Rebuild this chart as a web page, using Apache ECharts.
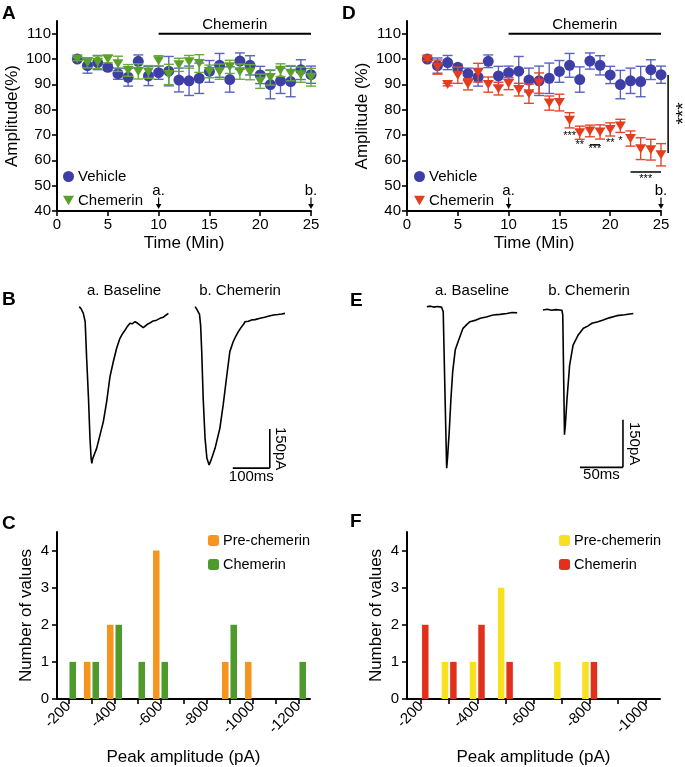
<!DOCTYPE html>
<html><head><meta charset="utf-8">
<script src="https://cdn.jsdelivr.net/npm/echarts@6/dist/echarts.min.js"></script>
<style>html,body{margin:0;padding:0;background:#fff}#c{width:685px;height:767px}</style>
</head><body><div id="c"></div>
<script>
// ---------- data ----------
const minutes = [2,3,4,5,6,7,8,9,10,11,12,13,14,15,16,17,18,19,20,21,22,23,24,25];
const vehicleMean = [100,97.4,98.6,96.7,94.2,92.8,99.1,93.3,94.6,95.2,91.7,91.4,92.4,95.1,97.5,91.9,99.2,97.5,93.7,89.9,91.4,91.1,95.8,93.8];
const vehicleSem  = [0.5,3.0,2.8,1.2,2.2,3.5,2.5,3.8,2.6,5.8,4.7,5.8,6.0,4.3,4.7,5.0,3.2,3.8,3.4,5.6,5.0,6.0,3.9,3.4];
const chemerinAMean = [100,98.5,98.7,100,98.1,95.5,95.1,94.9,99.3,93.9,97.7,98.9,98.2,95.1,95.0,96.9,95.0,94.8,91.2,92.7,95.6,94.4,93.8,92.8];
const chemerinASem  = [0.6,2.0,2.5,1.5,3.0,2.3,3.0,2.5,2.0,4.0,2.6,2.5,3.5,2.5,3.0,2.6,3.0,3.0,2.8,3.0,2.5,3.0,3.0,3.5];
const chemerinDMean = [100,96.8,89.9,93.6,90.0,94.6,89.9,88.3,90.3,87.9,86.3,90.5,82.6,82.8,75.8,70.9,71.6,71.2,72.2,73.6,68.6,64.6,64.2,62.2];
const chemerinDSem  = [0.6,2.8,0.5,3.2,2.2,3.7,3.0,2.5,2.4,2.5,3.8,4.0,2.8,3.3,3.0,2.6,2.3,2.8,2.6,2.6,3.0,4.3,4.1,4.4];
const ampTicks = [40,50,60,70,80,90,100,110];

const histBinsC = [-200,-300,-400,-500,-600,-700,-800,-900,-1000,-1100,-1200];
const preCountsC  = [0,1,2,0,4,0,0,1,1,0,0];
const chemCountsC = [1,1,2,1,1,0,0,2,0,0,1];
const labelTicksC = [-200,-400,-600,-800,-1000,-1200];
const histBinsF = [-200,-300,-400,-500,-600,-700,-800,-900,-1000];
const preCountsF  = [0,1,1,3,0,1,1,0,0];
const chemCountsF = [2,1,2,1,0,0,1,0,0];
const labelTicksF = [-200,-400,-600,-800,-1000];
const countTicks = [0,1,2,3,4];

// traces: [ms, pA]
const traceBaseB = [[25,-14],[30,-22],[36,-40],[41,-72],[45,-213],[50,-367],[54,-520],[57,-597],[59,-617],[61,-600],[63,-597],[72,-559],[81,-508],[90,-457],[99,-380],[108,-284],[117,-226],[126,-174],[135,-136],[142,-118],[149,-104],[155,-90],[162,-78],[168,-80],[176,-72],[183,-78],[189,-85],[198,-95],[203,-88],[209,-82],[217,-76],[225,-69],[234,-66],[243,-59],[252,-55],[258,-48],[266,-40]];
const traceChemB = [[338,-14],[341,-20],[344,-27],[350,-44],[353,-85],[356,-187],[360,-367],[365,-520],[370,-597],[376,-623],[379,-612],[383,-597],[392,-559],[405,-482],[414,-392],[424,-277],[432,-187],[441,-149],[448,-128],[455,-110],[464,-91],[470,-80],[473,-72],[482,-70],[491,-65],[500,-64],[514,-59],[526,-55],[538,-50],[550,-46],[562,-44],[572,-42],[581,-40]];
const traceBaseE = [[8,-3],[12,-1],[16,-4],[20,-2],[25,-4],[27,-19],[29,-271],[31,-513],[32,-481],[34,-397],[36,-292],[38,-208],[41,-139],[45,-108],[50,-71],[54,-60],[58,-50],[64,-46],[70,-39],[77,-35],[85,-29],[93,-27],[101,-24],[107,-21],[113,-22]];
const traceChemE = [[143,-13],[148,-11],[153,-14],[158,-12],[165,-14],[166,-29],[167,-218],[168,-407],[169,-376],[171,-292],[174,-187],[178,-124],[184,-92],[190,-71],[195,-64],[200,-55],[207,-50],[213,-45],[220,-38],[229,-31],[238,-28],[248,-24]];
const scaleBarB = {ms:100, pA:150};
const scaleBarE = {ms:50, pA:150};

// ---------- helpers ----------
const FONT = '"Liberation Sans", Arial, Helvetica, sans-serif';
const BLUE = '#3d3ea6', BLUE_ERR = '#5a62c2';
const GREEN = '#5aa02b', GREEN_ERR = '#64ad3c';
const RED = '#e43d1e', RED_ERR = '#e4482a';
const ORANGE = '#f7941d', HGREEN = '#4f9a2c', YELLOW = '#f7e01f', HRED = '#e1311d';
const TRI = 'path://M0,0L20,0L10,17Z';

function errSeries(name, xi, mean, sem, color, z){
  return {
    type:'custom', name:name, xAxisIndex:xi, yAxisIndex:xi, z:z,
    data: minutes.map((t,i)=>[t, mean[i], sem[i]]),
    encode:{x:0, y:1},
    renderItem:function(params, api){
      const x=api.value(0), m=api.value(1), e=api.value(2);
      const top=api.coord([x,m+e]), bot=api.coord([x,m-e]);
      const hw=5, st={stroke:color, lineWidth:1.4};
      return {type:'group', children:[
        {type:'line', shape:{x1:top[0],y1:top[1],x2:bot[0],y2:bot[1]}, style:st},
        {type:'line', shape:{x1:top[0]-hw,y1:top[1],x2:top[0]+hw,y2:top[1]}, style:st},
        {type:'line', shape:{x1:bot[0]-hw,y1:bot[1],x2:bot[0]+hw,y2:bot[1]}, style:st}
      ]};
    }
  };
}
function pts(name, xi, mean, color, symbol, size, z){
  return {type:'scatter', name:name, xAxisIndex:xi, yAxisIndex:xi, z:z,
    symbol:symbol, symbolSize:size, itemStyle:{color:color, opacity:1},
    data: minutes.map((t,i)=>[t, mean[i]])};
}
function traceSeries(data, gi){
  return {type:'line', xAxisIndex:gi, yAxisIndex:gi, data:data, showSymbol:false, symbol:'none',
    lineStyle:{color:'#000', width:1.6}, silent:true, animation:false};
}
function barSeries(name, gi, bins, counts, color){
  return {type:'bar', name:name, xAxisIndex:gi, yAxisIndex:gi, barWidth:6.5, barGap:'30%',
    itemStyle:{color:color}, data: bins.map((b,i)=>[b, counts[i]])};
}
const axisLineSt = {show:true, lineStyle:{color:'#000', width:2}};
const tickSt = {show:true, inside:false, length:5, lineStyle:{color:'#000', width:1.6}};
const labelSt = {color:'#000', fontSize:15, fontFamily:FONT};

function timeX(gi){
  return {type:'value', gridIndex:gi, min:0, max:25, interval:5,
    axisLine:axisLineSt, axisTick:tickSt, axisLabel:Object.assign({margin:6}, labelSt),
    splitLine:{show:false}, name:'Time (Min)', nameLocation:'middle', nameGap:24,
    nameTextStyle:{color:'#000', fontSize:17, fontFamily:FONT}};
}
function ampY(gi, name, gap){
  return {type:'value', gridIndex:gi, min:40, max:115,
    axisLine:axisLineSt, axisTick:Object.assign({customValues:ampTicks}, tickSt),
    axisLabel:Object.assign({margin:6, customValues:ampTicks}, labelSt),
    splitLine:{show:false}, name:name, nameLocation:'middle', nameGap:gap,
    nameTextStyle:{color:'#000', fontSize:17, fontFamily:FONT}};
}
function histX(gi, minV, ticks, labels){
  return {type:'value', gridIndex:gi, min:minV, max:-150, inverse:true,
    axisLine:axisLineSt, axisTick:Object.assign({customValues:ticks}, tickSt),
    axisLabel:Object.assign({margin:5, rotate:45, customValues:labels, formatter:v=>String(v)}, labelSt),
    splitLine:{show:false}, name:'Peak amplitude (pA)', nameLocation:'middle', nameGap:50,
    nameTextStyle:{color:'#000', fontSize:17, fontFamily:FONT}};
}
function histY(gi){
  return {type:'value', gridIndex:gi, min:0, max:4.5,
    axisLine:axisLineSt, axisTick:Object.assign({customValues:countTicks}, tickSt),
    axisLabel:Object.assign({margin:8, customValues:countTicks}, labelSt),
    splitLine:{show:false}, name:'Number of values', nameLocation:'middle', nameGap:22,
    nameTextStyle:{color:'#000', fontSize:17, fontFamily:FONT}};
}
function legendAt(left, top, names, gap, iconSz, fs){
  return {orient:'vertical', left:left, top:top, data:names, itemGap:gap, itemWidth:iconSz, itemHeight:iconSz,
    padding:0, selectedMode:false, formatter:n=>n.trim(),
    textStyle:{color:'#000', fontSize:fs, fontFamily:FONT, padding:[0,0,0,-1]}};
}

const chart = echarts.init(document.getElementById('c'), null, {renderer:'canvas'});
const option = {
  animation:false,
  textStyle:{fontFamily:FONT},
  grid:[
    {left:57, top:21, width:254, height:190},
    {left:407, top:21, width:254, height:190},
    {left:70, top:290, width:222, height:182},
    {left:420, top:290, width:215, height:190},
    {left:57, top:532, width:253, height:167},
    {left:407, top:532, width:253, height:167}
  ],
  xAxis:[
    timeX(0), timeX(1),
    {type:'value', gridIndex:2, min:0, max:600, show:false},
    {type:'value', gridIndex:3, min:0, max:250, show:false},
    histX(4, -1250, histBinsC, labelTicksC),
    histX(5, -1050, histBinsF, labelTicksF)
  ],
  yAxis:[
    ampY(0, 'Amplitude(%)', 36), ampY(1, 'Amplitude (%)', 36),
    {type:'value', gridIndex:2, min:-650, max:50, show:false},
    {type:'value', gridIndex:3, min:-550, max:50, show:false},
    histY(4), histY(5)
  ],
  legend:[
    legendAt(63, 169, ['Vehicle','Chemerin'], 9, 11, 15),
    legendAt(414, 169, ['Vehicle ','Chemerin '], 9, 11, 15),
    legendAt(208, 533, ['Pre-chemerin','Chemerin  '], 9, 11, 14.5),
    legendAt(559, 533, ['Pre-chemerin ','Chemerin   '], 9, 11, 14.5)
  ],
  series:[
    errSeries('vehErrA', 0, vehicleMean, vehicleSem, BLUE_ERR, 2),
    pts('Vehicle', 0, vehicleMean, BLUE, 'circle', 11, 3),
    errSeries('chemErrA', 0, chemerinAMean, chemerinASem, GREEN_ERR, 4),
    pts('Chemerin', 0, chemerinAMean, GREEN, TRI, [11,9], 5),
    errSeries('vehErrD', 1, vehicleMean, vehicleSem, BLUE_ERR, 2),
    pts('Vehicle ', 1, vehicleMean, BLUE, 'circle', 11, 3),
    errSeries('chemErrD', 1, chemerinDMean, chemerinDSem, RED_ERR, 4),
    pts('Chemerin ', 1, chemerinDMean, RED, TRI, [11,9], 5),
    traceSeries(traceBaseB, 2), traceSeries(traceChemB, 2),
    traceSeries(traceBaseE, 3), traceSeries(traceChemE, 3),
    barSeries('Pre-chemerin', 4, histBinsC, preCountsC, ORANGE),
    barSeries('Chemerin  ', 4, histBinsC, chemCountsC, HGREEN),
    barSeries('Pre-chemerin ', 5, histBinsF, preCountsF, YELLOW),
    barSeries('Chemerin   ', 5, histBinsF, chemCountsF, HRED)
  ]
};
chart.setOption(option);

// ---------- annotations ----------
const P = (g,x,y)=>chart.convertToPixel({gridIndex:g},[x,y]);
const G = [];
function txt(x,y,s,o){o=o||{};
  G.push({type:'text', x:x, y:y, rotation:o.rot||0, z:50,
    style:{text:s, fill:'#000', fontSize:o.fs||15, fontFamily:FONT, fontWeight:o.fw||'normal',
      align:o.align||'center', textAlign:o.align||'center',
      verticalAlign:o.va||'middle', textVerticalAlign:o.va||'middle'}});}
function ln(x1,y1,x2,y2,w){G.push({type:'line', z:50, shape:{x1,y1,x2,y2}, style:{stroke:'#000', lineWidth:w||2}});}
function arrow(x,yTop,yBot){ln(x,yTop,x,yBot-2,1.2);
  G.push({type:'polygon', z:50, shape:{points:[[x-2.8,yBot-5],[x+2.8,yBot-5],[x,yBot]]}, style:{fill:'#000'}});}

[0,1].forEach(g=>{
  const a=P(g,10,110), b=P(g,25,110);
  ln(a[0],a[1],b[0],b[1],2);
  const c=P(g,17.5,113.6); txt(c[0],c[1],'Chemerin');
  [[10,'a.'],[25,'b.']].forEach(([t,s])=>{
    const p=P(g,t,47.8); txt(p[0],p[1],s);
    const q1=P(g,t,45.3), q2=P(g,t,40.8); arrow(q1[0],q1[1],q2[1]);
  });
});
// significance marks in D
[[16,70.6,'***'],[17,67.0,'**'],[18.5,65.1,'***'],[20,67.8,'**'],[21,68.6,'*'],[23.5,53.4,'***']].forEach(([t,v,s])=>{
  const p=P(1,t,v); txt(p[0],p[1]+2,s,{fs:11});
});
{const a=P(1,18,66.2), b=P(1,19,66.2); ln(a[0],a[1],b[0],b[1],1);}
{const a=P(1,22,55.4), b=P(1,25,55.4); ln(a[0],a[1],b[0],b[1],1.5);}
{const a=P(1,25.7,93.7), b=P(1,25.7,62.9); ln(a[0],a[1],b[0],b[1],1.5);
 const c=P(1,26.9,78.5); txt(c[0]+3,c[1],'***',{fs:19, rot:Math.PI/2});}

// scale bars
function scaleBar(g, cornerMs, cornerPa, sb, msLabel, paLabel, paTxtDx, msTxtDy){
  const c=P(g,cornerMs,cornerPa), l=P(g,cornerMs-sb.ms,cornerPa), t=P(g,cornerMs,cornerPa+sb.pA);
  ln(l[0],l[1],c[0],c[1],1.6); ln(c[0],c[1],t[0],t[1],1.6);
  txt(c[0]+paTxtDx,(c[1]+t[1])/2,paLabel,{rot:-Math.PI/2});
  txt((l[0]+c[0])/2,c[1]+msTxtDy,msLabel);
}
scaleBar(2, 540, -635, scaleBarB, '100ms', '150pA', 10, 9);
scaleBar(3, 236, -510, scaleBarE, '50ms', '150pA', 11, 8);

// trace titles
txt(124,291,'a. Baseline'); txt(240,291,'b. Chemerin');
txt(472,291,'a. Baseline'); txt(589,291,'b. Chemerin');

// panel letters
[['A',2,4],['D',342,4],['B',2,290],['E',350,291],['C',2,514],['F',350,512]].forEach(([s,x,y])=>
  txt(x,y,s,{fs:19, fw:'bold', align:'left', va:'top'}));

chart.setOption({graphic:{elements:G}});
</script></body></html>
